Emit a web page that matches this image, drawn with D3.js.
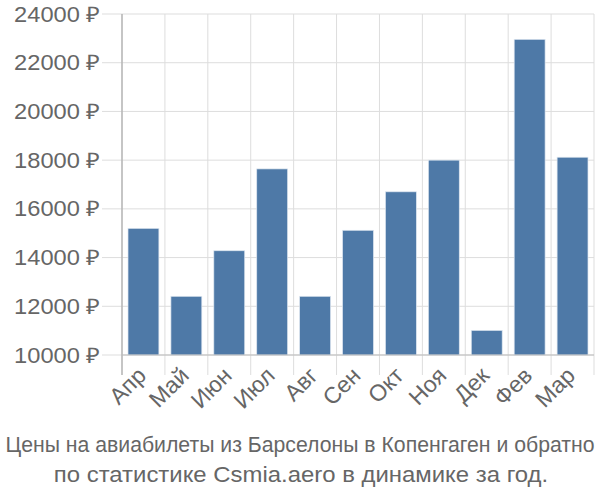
<!DOCTYPE html>
<html><head><meta charset="utf-8">
<script src="https://cdn.jsdelivr.net/npm/d3@7"></script>
<style>body{margin:0;background:#fff}svg{display:block}text{font-family:"Liberation Sans",Arial,sans-serif}</style>
</head><body>
<svg id="c" width="600" height="500"></svg>
<script>
const categories = ["Апр","Май","Июн","Июл","Авг","Сен","Окт","Ноя","Дек","Фев","Мар"];
const values = [15200,12410,14280,17640,12410,15120,16700,18000,11010,22960,18120];
const yTicks = [10000,12000,14000,16000,18000,20000,22000,24000];
const titleLines = ["Цены на авиабилеты из Барселоны в Копенгаген и обратно","по статистике Csmia.aero в динамике за год."];

const svg = d3.select("#c");
const L=122,R=594,T=14,B=355;
const x = d3.scaleBand().domain(categories).range([L,R]).paddingInner(0.28).paddingOuter(0.14);
const y = d3.scaleLinear().domain([10000,24000]).range([B,T]);
const step = x.step();

svg.append("g").selectAll("line").data(yTicks).join("line")
  .attr("x1",102).attr("x2",R).attr("y1",d=>y(d)).attr("y2",d=>y(d))
  .attr("stroke","#ddd").attr("stroke-width",1);
const vx = d3.range(categories.length+1).map(i=>L+i*step);
svg.append("g").selectAll("line").data(vx).join("line")
  .attr("x1",d=>d).attr("x2",d=>d).attr("y1",T).attr("y2",375)
  .attr("stroke","#ddd").attr("stroke-width",1);

svg.append("g").selectAll("rect").data(values).join("rect")
  .attr("x",(d,i)=>x(categories[i])).attr("width",x.bandwidth())
  .attr("y",d=>y(d)).attr("height",d=>B-y(d))
  .attr("fill","#4e79a7").attr("stroke","#dde6f0").attr("stroke-width",0.7);

svg.append("line").attr("x1",L).attr("x2",L).attr("y1",T).attr("y2",375).attr("stroke","#aaa").attr("stroke-width",1.2);
svg.append("line").attr("x1",L).attr("x2",R).attr("y1",B).attr("y2",B).attr("stroke","#bbb").attr("stroke-width",1.2);

svg.append("g").selectAll("text").data(yTicks).join("text")
  .attr("transform",d=>`translate(100,${y(d)}) scale(1.1,1)`).attr("dy","0.35em").attr("text-anchor","end")
  .attr("fill","#666").attr("font-size",21.5).text(d=>d+" ₽");

svg.append("g").selectAll("text").data(categories).join("text")
  .attr("transform",d=>`translate(${x(d)+x.bandwidth()/2+4},${377}) rotate(-45)`)
  .attr("text-anchor","end").attr("fill","#666").attr("font-size",23).text(d=>d);

const tg = svg.append("g");
tg.append("text").attr("transform","translate(300,452) scale(0.965,1)").attr("text-anchor","middle")
  .attr("fill","#666").attr("font-size",22).text(titleLines[0]);
tg.append("text").attr("transform","translate(301,482) scale(1.087,1)").attr("text-anchor","middle")
  .attr("fill","#666").attr("font-size",22).text(titleLines[1]);
</script>
</body></html>
